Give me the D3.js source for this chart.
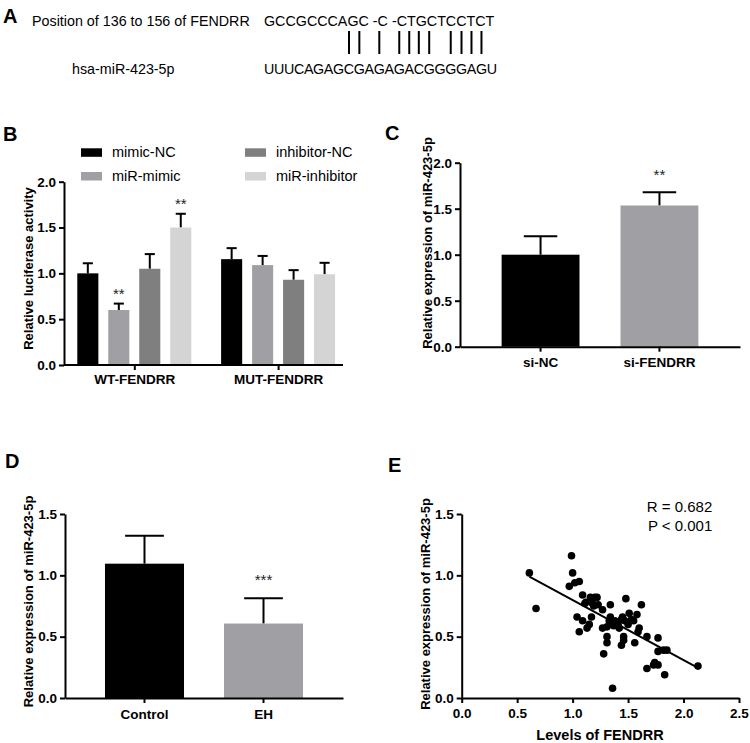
<!DOCTYPE html>
<html><head><meta charset="utf-8">
<script src="https://cdn.jsdelivr.net/npm/d3@7/dist/d3.min.js"></script>
<style>
body{margin:0;background:#fff;}
svg{display:block;font-family:"Liberation Sans",Arial,sans-serif;}
</style></head>
<body>
<svg id="fig" width="750" height="743"></svg>
<script>
// ---------------- DATA ----------------
const seqTopLabel = "Position of 136 to 156 of FENDRR";
const seqTop = "GCCGCCCAGC -C -CTGCTCCTCT";
const seqBottomLabel = "hsa-miR-423-5p";
const seqBottom = "UUUCAGAGCGAGAGACGGGGAGU";
const pairIndex = [8, 9, 11, 13, 14, 15, 16, 18, 19, 20, 21];

const bGroups = ["WT-FENDRR", "MUT-FENDRR"];
const bSeries = ["mimic-NC", "miR-mimic", "inhibitor-NC", "miR-inhibitor"];
const bColors = ["#000000", "#a0a0a4", "#7f7f7f", "#d4d4d4"];
const bValues = [[1.00, 0.60, 1.05, 1.50], [1.155, 1.09, 0.93, 0.99]];
const bErrors = [[0.11, 0.07, 0.16, 0.15], [0.12, 0.10, 0.105, 0.125]];
const bStars  = [["", "**", "", "**"], ["", "", "", ""]];
const bTicks = [0, 0.5, 1.0, 1.5, 2.0];

const cCats = ["si-NC", "si-FENDRR"];
const cValues = [1.0, 1.535];
const cErrors = [0.2, 0.145];
const cColors = ["#000000", "#a0a0a4"];
const cStars = ["", "**"];
const cTicks = [0, 0.5, 1.0, 1.5, 2.0];

const dCats = ["Control", "EH"];
const dValues = [1.095, 0.607];
const dErrors = [0.228, 0.207];
const dColors = ["#000000", "#a0a0a4"];
const dStars = ["", "***"];
const dTicks = [0, 0.5, 1.0, 1.5];

const eX = [0.61,0.67,0.99,1.0,0.97,1.02,1.06,1.09,1.11,1.04,1.09,1.06,1.13,1.15,1.16,1.20,1.22,1.18,1.19,1.17,1.27,1.27,1.28,1.31,1.31,1.34,1.34,1.31,1.36,1.38,1.40,1.42,1.44,1.46,1.46,1.44,1.48,1.47,1.51,1.55,1.58,1.62,1.60,1.59,1.56,1.67,1.67,1.77,1.77,1.74,1.77,1.73,1.85,1.82,1.83,2.13,1.35,1.37,1.41,1.45,1.50,1.53,1.23,1.33,1.12];
const eY = [1.02,0.73,1.16,1.02,0.91,0.94,0.95,0.84,0.77,0.66,0.63,0.54,0.57,0.60,0.82,0.82,0.82,0.77,0.75,0.66,0.72,0.57,0.36,0.50,0.45,0.76,0.66,0.58,0.08,0.63,0.62,0.57,0.64,0.47,0.50,0.43,0.81,0.63,0.69,0.63,0.68,0.76,0.57,0.54,0.45,0.50,0.24,0.49,0.38,0.29,0.27,0.27,0.39,0.39,0.19,0.26,0.61,0.59,0.60,0.66,0.60,0.64,0.76,0.63,0.78];
const eFitX = [0.61, 2.13];
const eFitY = [0.99, 0.245];
const eXTicks = [0, 0.5, 1.0, 1.5, 2.0, 2.5];
const eYTicks = [0, 0.5, 1.0, 1.5];
const eStats = ["R = 0.682", "P < 0.001"];

// ---------------- DRAW ----------------
const svg = d3.select("#fig");
const fmt = d3.format(".1f");
const TICKFONT = 13.5, CATFONT = 13.5, YLFONT = 13;

function panelLabel(t, x, y) {
  svg.append("text").attr("x", x).attr("y", y).text(t)
    .attr("font-size", 20).attr("font-weight", "bold");
}
function styleAxis(g, fs) {
  g.select(".domain").attr("stroke", "#000").attr("stroke-width", 2);
  g.selectAll(".tick line").attr("stroke", "#000").attr("stroke-width", 2);
  g.selectAll(".tick text").attr("fill", "#000").attr("font-size", fs)
    .attr("font-weight", "bold").attr("font-family", "Liberation Sans, Arial, sans-serif");
}
function yLabel(t, cx, cy) {
  svg.append("text").attr("transform", `translate(${cx},${cy}) rotate(-90)`)
    .attr("text-anchor", "middle").attr("dy", "0.35em")
    .attr("font-size", YLFONT).attr("font-weight", "bold").text(t);
}
function yAxis(y, x0, ticks) {
  const g = svg.append("g").attr("transform", `translate(${x0},0)`)
    .call(d3.axisLeft(y).tickValues(ticks).tickFormat(fmt).tickSize(5).tickPadding(3).tickSizeOuter(0));
  styleAxis(g, TICKFONT);
}
function star(t, x, y) {
  svg.append("text").attr("x", x).attr("y", y).attr("text-anchor", "middle")
    .attr("font-size", 15).attr("fill", "#222").text(t);
}
function errBar(xc, w, yTop, yVal) {
  svg.append("line").attr("x1", xc).attr("x2", xc).attr("y1", yVal).attr("y2", yTop)
    .attr("stroke", "#000").attr("stroke-width", 2);
  svg.append("line").attr("x1", xc - w / 2).attr("x2", xc + w / 2).attr("y1", yTop).attr("y2", yTop)
    .attr("stroke", "#000").attr("stroke-width", 2);
}

// ===== Panel A =====
panelLabel("A", 3, 23);
const aFont = 14.3;
svg.append("text").attr("x", 32).attr("y", 26).attr("font-size", aFont).text(seqTopLabel);
svg.append("text").attr("x", 264).attr("y", 26).attr("font-size", aFont).text(seqTop);
svg.append("text").attr("x", 72).attr("y", 74).attr("font-size", aFont).text(seqBottomLabel);
const bottomSeq = svg.append("text").attr("x", 264).attr("y", 74).attr("font-size", aFont)
  .attr("textLength", 233).attr("lengthAdjust", "spacing").text(seqBottom);
const bsNode = bottomSeq.node();
pairIndex.forEach(i => {
  const ext = bsNode.getExtentOfChar(i);
  const cx = ext.x + ext.width / 2;
  svg.append("line").attr("x1", cx).attr("x2", cx).attr("y1", 31).attr("y2", 54)
    .attr("stroke", "#000").attr("stroke-width", 2);
});

// ===== Panel B =====
panelLabel("B", 3, 141);
{
  const x0 = 64, x1 = 343, yb = 365, yt = 181.7;
  const y = d3.scaleLinear().domain([0, 2]).range([yb, yt]);
  const gx = d3.scalePoint().domain(bGroups).range([x0, x1]).padding(0.47).align(0.52);
  const sx = d3.scaleBand().domain(bSeries).range([-57, 57]).paddingInner(0.32);
  bGroups.forEach((g, gi) => {
    bSeries.forEach((s, si) => {
      const bx = gx(g) + sx(s), bw = sx.bandwidth();
      const v = bValues[gi][si], e = bErrors[gi][si];
      errBar(bx + bw / 2, bw * 0.48, y(v + e), y(v));
      svg.append("rect").attr("x", bx).attr("y", y(v)).attr("width", bw)
        .attr("height", yb - y(v)).attr("fill", bColors[si]);
      if (bStars[gi][si]) star(bStars[gi][si], bx + bw / 2, y(v + e) - 5);
    });
  });
  yAxis(y, x0, bTicks);
  const gxa = svg.append("g").attr("transform", `translate(0,${yb})`)
    .call(d3.axisBottom(gx.copy()).tickSize(5).tickPadding(4).tickSizeOuter(0));
  gxa.select(".domain").attr("d", `M${x0},0H${x1}`);
  styleAxis(gxa, CATFONT);
  yLabel("Relative luciferase activity", 28, 268.5);
  // legend
  const legX = [81, 245], legY = [148.3, 172];
  bSeries.forEach((s, i) => {
    const col = i === 0 || i === 1 ? 0 : 1;
    const row = i % 2;
    svg.append("rect").attr("x", legX[col]).attr("y", legY[row]).attr("width", 21).attr("height", 8.5)
      .attr("fill", bColors[i]);
    svg.append("text").attr("x", legX[col] + 31).attr("y", legY[row] + 9).attr("font-size", 14.5)
      .text(s);
  });
}

// ===== Panel C =====
panelLabel("C", 385, 140);
{
  const x0 = 460, x1 = 740, yb = 346.7, yt = 162.7;
  const y = d3.scaleLinear().domain([0, 2]).range([yb, yt]);
  const x = d3.scaleBand().domain(cCats).range([x0, x1]).paddingInner(0.345).paddingOuter(0.35);
  cCats.forEach((c, i) => {
    const bw = x.bandwidth(), bx = x(c);
    errBar(bx + bw / 2, bw * 0.43, y(cValues[i] + cErrors[i]), y(cValues[i]));
    svg.append("rect").attr("x", bx).attr("y", y(cValues[i])).attr("width", bw)
      .attr("height", yb - y(cValues[i])).attr("fill", cColors[i]);
    if (cStars[i]) star(cStars[i], bx + bw / 2, y(cValues[i] + cErrors[i]) - 12);
  });
  yAxis(y, x0, cTicks);
  const gxa = svg.append("g").attr("transform", `translate(0,${yb})`)
    .call(d3.axisBottom(x).tickSize(5).tickPadding(6).tickSizeOuter(0));
  styleAxis(gxa, CATFONT);
  yLabel("Relative expression of miR-423-5p", 427, 243);
}

// ===== Panel D =====
panelLabel("D", 5, 468);
{
  const x0 = 65, x1 = 343, yb = 698, yt = 514;
  const y = d3.scaleLinear().domain([0, 1.5]).range([yb, yt]);
  const x = d3.scaleBand().domain(dCats).range([x0, x1]).paddingInner(0.336).paddingOuter(0.336);
  dCats.forEach((c, i) => {
    const bw = x.bandwidth(), bx = x(c);
    errBar(bx + bw / 2, bw * 0.49, y(dValues[i] + dErrors[i]), y(dValues[i]));
    svg.append("rect").attr("x", bx).attr("y", y(dValues[i])).attr("width", bw)
      .attr("height", yb - y(dValues[i])).attr("fill", dColors[i]);
    if (dStars[i]) star(dStars[i], bx + bw / 2, y(dValues[i] + dErrors[i]) - 13);
  });
  yAxis(y, x0, dTicks);
  const gxa = svg.append("g").attr("transform", `translate(0,${yb})`)
    .call(d3.axisBottom(x).tickSize(5).tickPadding(6).tickSizeOuter(0));
  styleAxis(gxa, CATFONT);
  yLabel("Relative expression of miR-423-5p", 28, 601.5);
}

// ===== Panel E =====
panelLabel("E", 388, 472);
{
  const x0 = 461.7, x1 = 739, yb = 698, yt = 514;
  const x = d3.scaleLinear().domain([0, 2.5]).range([x0, x1]);
  const y = d3.scaleLinear().domain([0, 1.5]).range([yb, yt]);
  svg.append("g").selectAll("circle").data(eX.map((v, i) => [v, eY[i]])).join("circle")
    .attr("cx", d => x(d[0])).attr("cy", d => y(d[1])).attr("r", 3.8).attr("fill", "#000");
  svg.append("line").attr("x1", x(eFitX[0])).attr("y1", y(eFitY[0]))
    .attr("x2", x(eFitX[1])).attr("y2", y(eFitY[1])).attr("stroke", "#000").attr("stroke-width", 2);
  yAxis(y, x0, eYTicks);
  const gxa = svg.append("g").attr("transform", `translate(0,${yb})`)
    .call(d3.axisBottom(x).tickValues(eXTicks).tickFormat(fmt).tickSize(5).tickPadding(5).tickSizeOuter(0));
  styleAxis(gxa, TICKFONT);
  yLabel("Relative expression of miR-423-5p", 425, 604);
  svg.append("text").attr("x", 600).attr("y", 740).attr("text-anchor", "middle")
    .attr("font-size", 14.5).attr("font-weight", "bold").text("Levels of FENDRR");
  svg.append("text").attr("x", 712.3).attr("y", 511.7).attr("text-anchor", "end")
    .attr("font-size", 15).text(eStats[0]);
  svg.append("text").attr("x", 712.3).attr("y", 531).attr("text-anchor", "end")
    .attr("font-size", 15).text(eStats[1]);
}
</script>
</body></html>
